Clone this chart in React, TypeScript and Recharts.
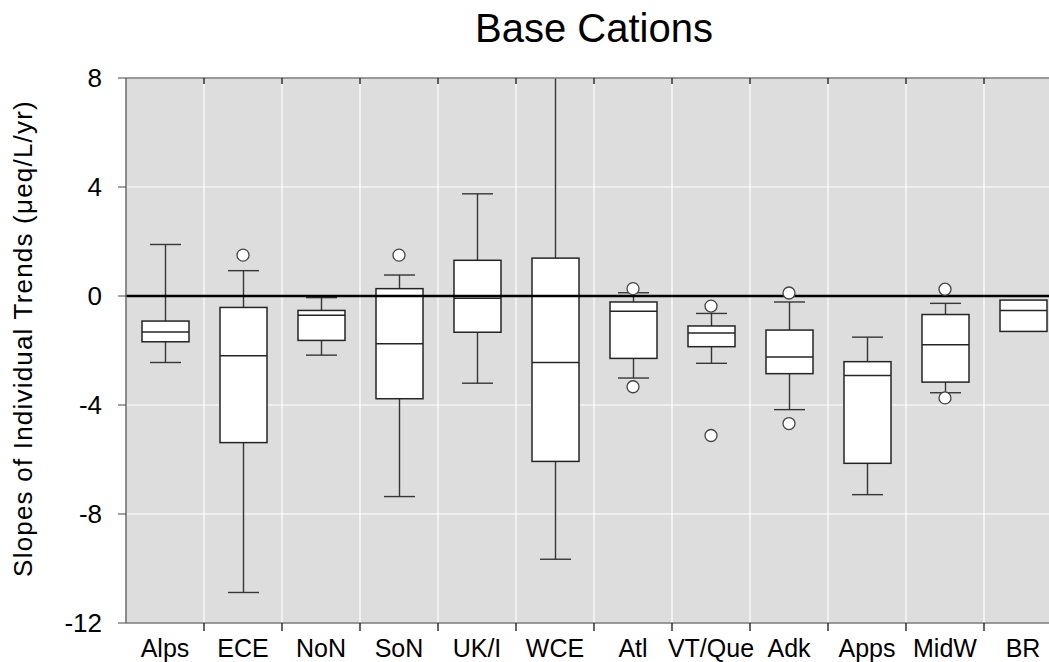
import React from "react";
import {
  ComposedChart,
  Bar,
  Line,
  XAxis,
  YAxis,
  CartesianGrid,
  ReferenceLine,
} from "recharts";

// Box-plot summary of per-site slopes, one box per region
const regions = ["Alps", "ECE", "NoN", "SoN", "UK/I", "WCE", "Atl", "VT/Que", "Adk", "Apps", "MidW", "BR"];
const whiskerHigh = [1.89, 0.93, -0.06, 0.77, 3.75, 8, 0.12, -0.64, -0.22, -1.51, -0.27, -0.15];
const upperQuartile = [-0.92, -0.42, -0.53, 0.27, 1.31, 1.39, -0.22, -1.1, -1.25, -2.41, -0.68, -0.15];
const medians = [-1.32, -2.19, -0.71, -1.75, -0.08, -2.44, -0.56, -1.36, -2.24, -2.92, -1.79, -0.53];
const lowerQuartile = [-1.68, -5.38, -1.63, -3.77, -1.33, -6.07, -2.29, -1.86, -2.85, -6.14, -3.16, -1.3];
const whiskerLow = [-2.44, -10.88, -2.17, -7.36, -3.2, -9.66, -3.01, -2.47, -4.17, -7.29, -3.55, -1.3];
const outliersHigh = [null, 1.5, null, 1.5, null, null, 0.27, -0.37, 0.11, null, 0.25, null];
const outliersLow = [null, null, null, null, null, null, -3.33, -5.12, -4.68, null, -3.74, null];

const yTicks = [-12, -8, -4, 0, 4, 8];

const Y_MAX = 8;
const FONT = '"Liberation Sans", Arial, sans-serif';
const LABEL_GAP = 16;

const data = regions.map((region, i) => ({
  region,
  lo: whiskerLow[i],
  q1: lowerQuartile[i],
  med: medians[i],
  q3: upperQuartile[i],
  hi: whiskerHigh[i],
  outHi: outliersHigh[i],
  outLo: outliersLow[i],
}));

const BoxShape = (props: any) => {
  const { x, y, width, height, payload } = props;
  const top = Math.min(y, y + height);
  const h = Math.abs(height);
  const medY = top + ((payload.q3 - payload.med) / (payload.q3 - payload.q1)) * h;
  return (
    <g>
      <rect x={x} y={top} width={width} height={h} fill="#fff" stroke="#252525" strokeWidth={1.5} />
      <line x1={x} x2={x + width} y1={medY} y2={medY} stroke="#252525" strokeWidth={1.5} />
    </g>
  );
};

const WhiskerShape = (props: any) => {
  const { x, y, width, height, payload } = props;
  if (payload.hi === payload.q3 && payload.lo === payload.q1) return <g />;
  const top = Math.min(y, y + height);
  const bottom = top + Math.abs(height);
  const cx = x + width / 2;
  return (
    <g stroke="#363636" strokeWidth={1.4}>
      <line x1={cx} x2={cx} y1={top} y2={bottom} />
      {payload.hi < Y_MAX && <line x1={x} x2={x + width} y1={top} y2={top} />}
      <line x1={x} x2={x + width} y1={bottom} y2={bottom} />
    </g>
  );
};

const OutlierDot = (props: any) => {
  const { cx, cy, value, index, dataKey } = props;
  if (value == null || cy == null || Number.isNaN(cy)) return <g key={`${dataKey}-${index}`} />;
  return (
    <circle key={`${dataKey}-${index}`} cx={cx} cy={cy} r={6} fill="#fff" stroke="#444" strokeWidth={1.3} />
  );
};

// left edge of a category band, from the tick's centre and half band width
const bandLeft = (props: any) => {
  const half = props.payload?.offset ?? (props.width ? props.width / regions.length / 2 : 0);
  return props.x - half;
};

// label under each box, plus a tick on the left edge of its band
const RegionTick = (props: any) => {
  const { x, y, payload } = props;
  const i = regions.indexOf(payload.value);
  const edge = bandLeft(props);
  const axisY = y - LABEL_GAP;
  return (
    <g>
      {i > 0 && <line x1={edge} x2={edge} y1={axisY} y2={axisY + 8} stroke="#222" strokeWidth={1.4} />}
      <text x={x} y={y} dy="0.71em" textAnchor="middle" fontFamily={FONT} fontSize={25} fill="#000">
        {payload.value}
      </text>
    </g>
  );
};

// inward tick marks along the top frame
const TopEdgeTick = (props: any) => {
  const { y, payload } = props;
  if (regions.indexOf(payload.value) <= 0) return <g />;
  const edge = bandLeft(props);
  return <line x1={edge} x2={edge} y1={y} y2={y + 6} stroke="#222" strokeWidth={1.4} />;
};

// vertical grid lines on the band boundaries
const bandEdges = ({ xAxis }: any) => {
  const s = xAxis?.scale;
  const toPx =
    typeof s === "function" ? s : s && typeof s.map === "function" ? (v: string) => s.map(v) : null;
  if (!toPx) return [];
  return regions.slice(1).map((r) => toPx(r)).filter((v: any) => typeof v === "number");
};

const YTitle = (props: any) => {
  const { viewBox } = props;
  const cx = viewBox.x + 23;
  const cy = viewBox.y + viewBox.height / 2 - 12;
  return (
    <text
      x={cx}
      y={cy}
      transform={`rotate(-90, ${cx}, ${cy})`}
      textAnchor="middle"
      dominantBaseline="central"
      fontFamily={FONT}
      fontSize={26}
      letterSpacing={1.2}
      fill="#000"
    >
      Slopes of Individual Trends (μeq/L/yr)
    </text>
  );
};

export default function App() {
  return (
    <div
      style={{
        position: "absolute",
        left: 0,
        top: 0,
        width: 1049,
        height: 662,
        overflow: "hidden",
        background: "#fff",
      }}
    >
      <div
        style={{
          position: "absolute",
          left: 126,
          top: 5,
          width: 936,
          textAlign: "center",
          fontFamily: FONT,
          fontSize: 40,
          lineHeight: "46px",
          color: "#000",
        }}
      >
        Base Cations
      </div>
      <ComposedChart
        width={1080}
        height={662}
        data={data}
        margin={{ top: 77, right: 18, bottom: 0, left: 0 }}
      >
        <CartesianGrid
          xAxisId="box"
          fill="#dddddd"
          stroke="#ffffff"
          strokeWidth={1.2}
          verticalCoordinatesGenerator={bandEdges}
        />
        <XAxis
          xAxisId="box"
          dataKey="region"
          height={39}
          interval={0}
          tickSize={0}
          tickMargin={LABEL_GAP}
          tickLine={false}
          axisLine={{ stroke: "#7a7a7a", strokeWidth: 1.5 }}
          tick={<RegionTick />}
        />
        <XAxis
          xAxisId="top"
          orientation="top"
          dataKey="region"
          height={1}
          interval={0}
          tickSize={0}
          tickMargin={0}
          tickLine={false}
          axisLine={{ stroke: "#7a7a7a", strokeWidth: 1.5 }}
          tick={<TopEdgeTick />}
        />
        <XAxis xAxisId="whisker" dataKey="region" hide />
        <YAxis
          type="number"
          domain={[-12, 8]}
          ticks={yTicks}
          width={126}
          tickSize={8}
          tickMargin={16}
          axisLine={{ stroke: "#6a6a6a", strokeWidth: 1.5 }}
          tickLine={{ stroke: "#444" }}
          tick={{ fontSize: 26, fill: "#000", fontFamily: FONT }}
          label={<YTitle />}
        />
        <Bar
          xAxisId="whisker"
          dataKey={(d: any) => [d.lo, d.hi]}
          barSize={31}
          shape={<WhiskerShape />}
          isAnimationActive={false}
        />
        <Bar
          xAxisId="box"
          dataKey={(d: any) => [d.q1, d.q3]}
          barSize={47}
          shape={<BoxShape />}
          isAnimationActive={false}
        />
        <ReferenceLine xAxisId="box" y={0} stroke="#000" strokeWidth={2.5} />
        <Line
          xAxisId="box"
          dataKey="outHi"
          stroke="none"
          dot={<OutlierDot />}
          activeDot={false}
          isAnimationActive={false}
        />
        <Line
          xAxisId="box"
          dataKey="outLo"
          stroke="none"
          dot={<OutlierDot />}
          activeDot={false}
          isAnimationActive={false}
        />
      </ComposedChart>
    </div>
  );
}
